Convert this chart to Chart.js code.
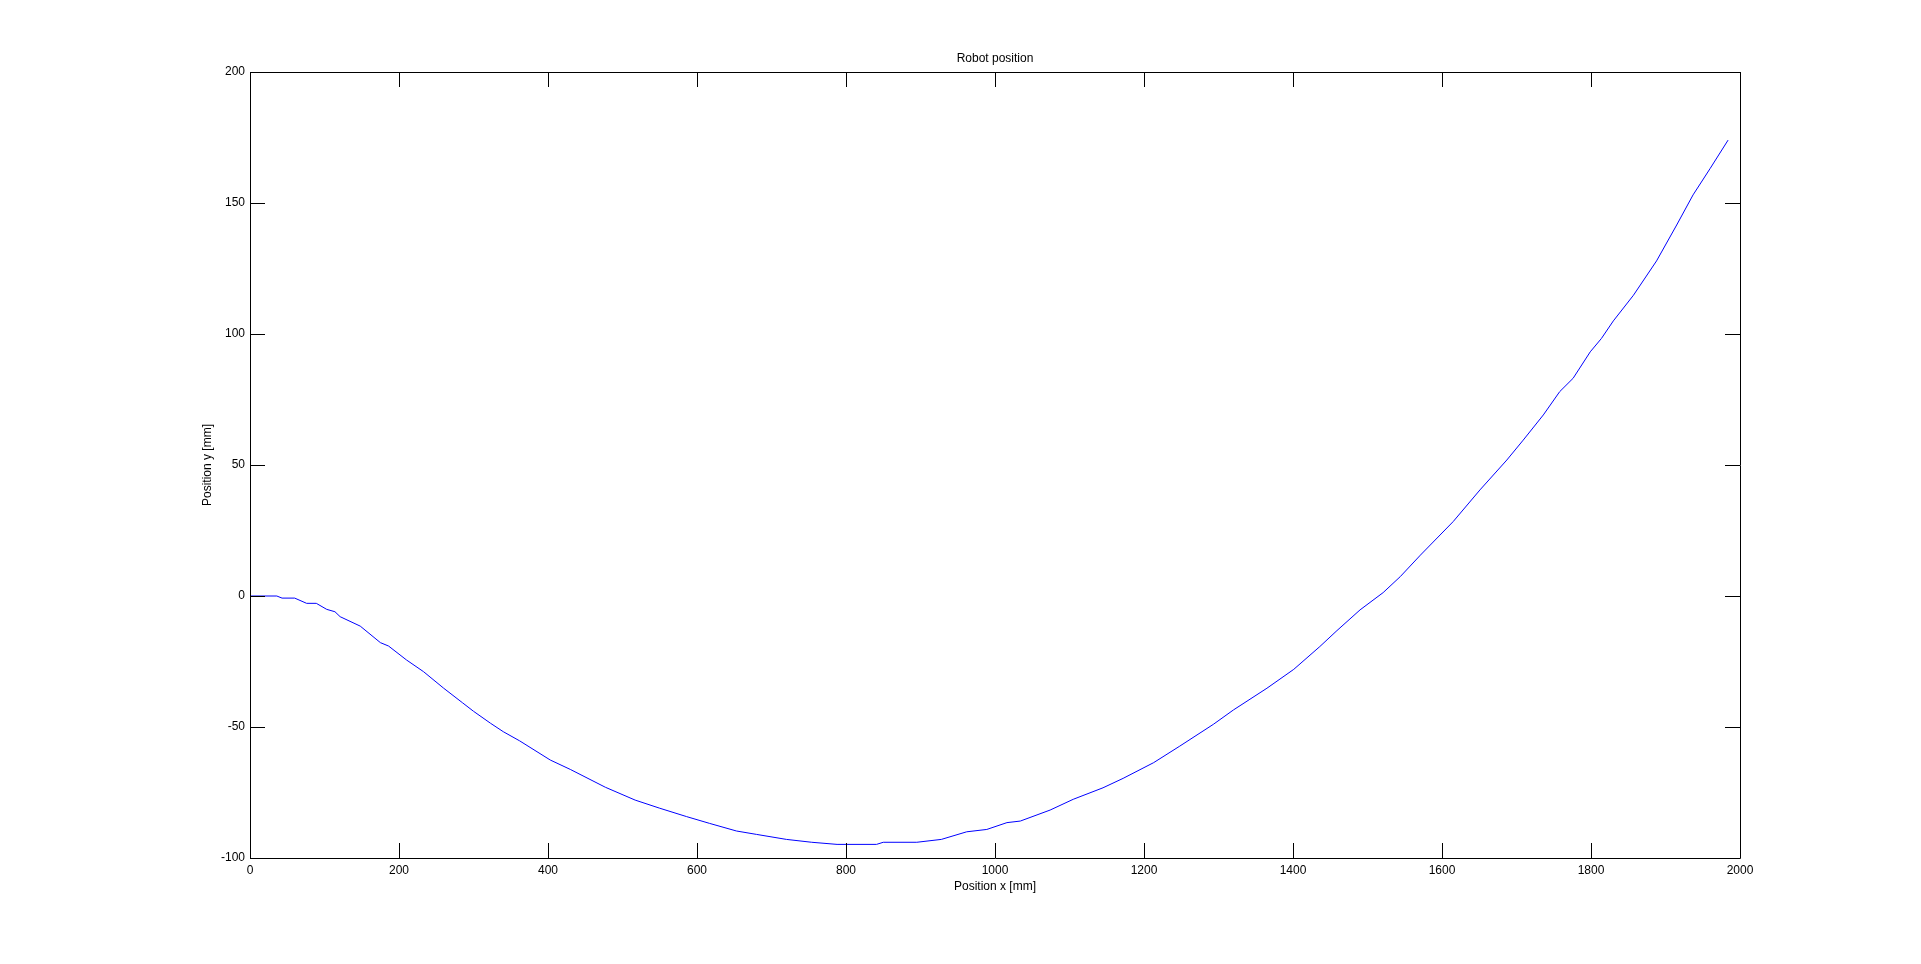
<!DOCTYPE html>
<html>
<head>
<meta charset="utf-8">
<script src="https://cdn.jsdelivr.net/npm/chart.js@4/dist/chart.umd.min.js"></script>
<style>
  html, body { margin: 0; padding: 0; background: #ffffff; overflow: hidden; }
  canvas { display: block; }
</style>
</head>
<body>
<canvas id="c" width="1921" height="964"></canvas>
<script>
// ---- data ----
const titleText = "Robot position";
const xTitle = "Position x [mm]";
const yTitle = "Position y [mm]";

const posX = [0, 36, 43, 60, 76, 89, 103, 114, 121, 148, 175, 186, 210, 233, 260, 285, 300, 323, 340, 362,
  403, 430, 477, 517, 550, 586, 617, 653, 680, 720, 754, 788, 841, 850, 895, 928, 962, 989, 1016, 1034,
  1074, 1105, 1145, 1172, 1213, 1248, 1293, 1320, 1365, 1401, 1436, 1459, 1490, 1521, 1544, 1571, 1615,
  1651, 1687, 1709, 1736, 1758, 1776, 1799, 1814, 1830, 1857, 1888, 1915, 1937, 1960, 1984];
const posY = [0, 0, -0.8, -0.8, -2.8, -2.8, -5.1, -6.0, -7.9, -11.5, -17.8, -19.1, -24.4, -28.9, -35.2, -40.7, -44.0, -48.6, -51.8, -55.3,
  -62.6, -66.2, -73.0, -77.9, -81.0, -84.2, -86.8, -89.7, -91.0, -92.9, -94.0, -94.8, -94.8, -94.0, -94.0, -92.9, -90.0, -89.1, -86.5, -85.9,
  -81.7, -77.6, -73.2, -69.6, -63.6, -57.3, -49.0, -43.5, -35.2, -28.0, -19.3, -13.2, -5.3, 1.3, 7.4, 15.6, 28.4,
  40.5, 51.9, 59.5, 69.1, 78.0, 83.1, 93.2, 98.3, 105.0, 114.8, 127.9, 141.6, 153.1, 163.2, 174.0];

const xTicks = [0, 200, 400, 600, 800, 1000, 1200, 1400, 1600, 1800, 2000];
const yTicks = [-100, -50, 0, 50, 100, 150, 200];

const points = posX.map((x, i) => ({ x: x, y: posY[i] }));
const FAMILY = "'Liberation Sans', Arial, Helvetica, sans-serif";
const FONT = { family: FAMILY, size: 12 };

// box, inward tick marks and the title, MATLAB style
const boxPlugin = {
  id: 'box',
  afterDraw(chart) {
    const ctx = chart.ctx;
    const a = chart.chartArea;
    const xs = chart.scales.x, ys = chart.scales.y;
    const L = 15;
    ctx.save();
    ctx.strokeStyle = '#000000';
    ctx.lineWidth = 1;
    ctx.beginPath();
    ctx.rect(Math.round(a.left) + 0.5, Math.round(a.top) + 0.5,
             Math.round(a.right) - Math.round(a.left), Math.round(a.bottom) - Math.round(a.top));
    xTicks.forEach(v => {
      const px = Math.round(xs.getPixelForValue(v)) + 0.5;
      ctx.moveTo(px, a.bottom); ctx.lineTo(px, a.bottom - L);
      ctx.moveTo(px, a.top); ctx.lineTo(px, a.top + L);
    });
    yTicks.forEach(v => {
      const py = Math.round(ys.getPixelForValue(v)) + 0.5;
      ctx.moveTo(a.left, py); ctx.lineTo(a.left + L, py);
      ctx.moveTo(a.right, py); ctx.lineTo(a.right - L, py);
    });
    ctx.stroke();
    // title centred over the plot box
    ctx.fillStyle = '#000000';
    ctx.font = '12px ' + FAMILY;
    ctx.textAlign = 'center';
    ctx.textBaseline = 'middle';
    ctx.fillText(titleText, (a.left + a.right) / 2, 59);
    ctx.restore();
  }
};

new Chart(document.getElementById('c'), {
  type: 'line',
  data: {
    datasets: [{
      data: points,
      borderColor: '#0000ff',
      borderWidth: 1,
      pointRadius: 0,
      tension: 0,
      fill: false
    }]
  },
  options: {
    responsive: false,
    animation: false,
    devicePixelRatio: 1,
    layout: { padding: { left: 0, right: 181, top: 72, bottom: 66 } },
    plugins: {
      legend: { display: false },
      tooltip: { enabled: false },
      title: { display: false }
    },
    scales: {
      x: {
        type: 'linear',
        min: 0, max: 2000,
        afterBuildTicks: (s) => { s.ticks = xTicks.map(v => ({ value: v })); },
        afterFit: (s) => { s.height = 40; },
        grid: { display: false, drawTicks: false },
        border: { display: false },
        ticks: { color: '#000000', font: FONT, padding: 5, maxRotation: 0, autoSkip: false,
                 callback: (v) => String(v) },
        title: { display: true, text: xTitle, color: '#000000', font: FONT, padding: { top: 0, bottom: 3.8 } }
      },
      y: {
        type: 'linear',
        min: -100, max: 200,
        afterBuildTicks: (s) => { s.ticks = yTicks.map(v => ({ value: v })); },
        afterFit: (s) => { s.width = 250; },
        grid: { display: false, drawTicks: false },
        border: { display: false },
        ticks: { color: '#000000', font: FONT, padding: 5, autoSkip: false,
                 callback: (v) => String(v) },
        title: { display: true, text: yTitle, color: '#000000', font: FONT, padding: { top: 200.8, bottom: 0 } }
      }
    }
  },
  plugins: [boxPlugin]
});
</script>
</body>
</html>
